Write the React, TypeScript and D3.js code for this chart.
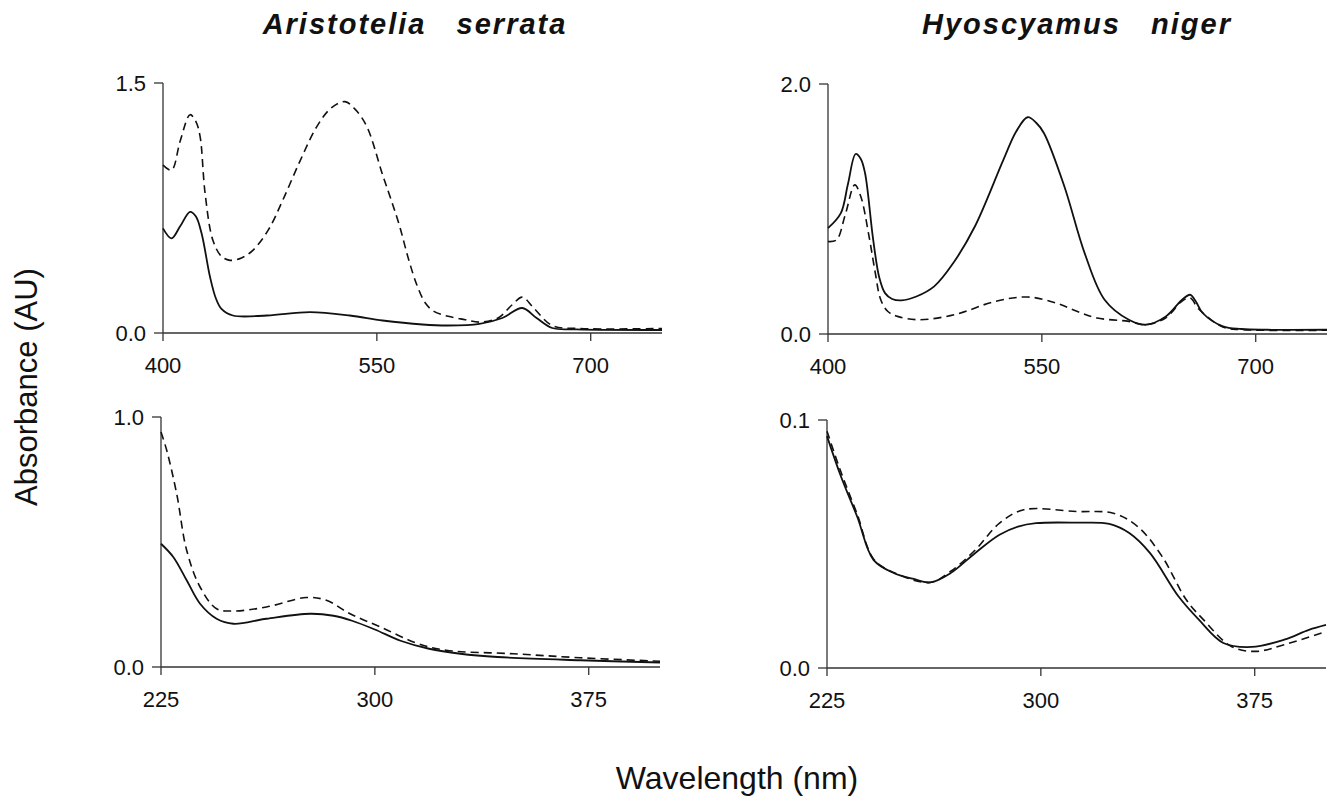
import React from "react";
import * as d3 from "d3";

// ---- Data (wavelength nm, absorbance AU) ----
const asVisSolid: [number, number][] = [
  [400, 0.628], [406, 0.568], [412, 0.64], [419, 0.727], [423, 0.7], [427, 0.6], [433, 0.336],
  [437, 0.21], [441, 0.145], [449, 0.105], [473, 0.105], [503, 0.125], [531, 0.105], [554, 0.075],
  [582, 0.051], [600, 0.045], [622, 0.055], [638, 0.09], [652, 0.15], [662, 0.09], [673, 0.03],
  [690, 0.022], [750, 0.018],
];
const asVisDashed: [number, number][] = [
  [400, 1.007], [406, 0.977], [412, 1.15], [419, 1.31], [423, 1.27], [426, 1.18], [429.5, 0.84],
  [435, 0.556], [441, 0.46], [447, 0.436], [455, 0.45], [463, 0.496], [474, 0.62], [484, 0.797],
  [496, 1.03], [508, 1.24], [518, 1.35], [527.6, 1.388], [535, 1.34], [543, 1.238], [554, 0.95],
  [560, 0.8], [566, 0.64], [572, 0.45], [578, 0.29], [584, 0.18], [590, 0.13], [600, 0.1],
  [612, 0.08], [622, 0.065], [635, 0.09], [645, 0.17], [652, 0.215], [660, 0.15], [673, 0.045],
  [692, 0.027], [750, 0.027],
];
const hnVisSolid: [number, number][] = [
  [400, 0.847], [409, 0.967], [414, 1.2], [419.4, 1.44], [423, 1.4], [426, 1.286], [431.7, 0.753],
  [436, 0.45], [440, 0.327], [445, 0.28], [451.6, 0.269], [462, 0.3], [474.5, 0.381], [488, 0.57],
  [503, 0.86], [523, 1.393], [532, 1.62], [540, 1.734], [546, 1.69], [551.5, 1.606], [565.8, 1.18],
  [580, 0.647], [594, 0.274], [611, 0.114], [622.8, 0.074], [637, 0.141], [648, 0.27], [654, 0.314],
  [658, 0.26], [662.8, 0.168], [677, 0.061], [690, 0.04], [708, 0.034], [750, 0.034],
];
const hnVisDashed: [number, number][] = [
  [400, 0.74], [406, 0.753], [412, 0.95], [418.8, 1.193], [423, 1.1], [428.8, 0.78], [433, 0.5],
  [437, 0.274], [442, 0.18], [448.8, 0.141], [463, 0.114], [488.7, 0.154], [517, 0.26], [540, 0.296],
  [560, 0.248], [575, 0.18], [588.6, 0.128], [611, 0.101], [622.8, 0.074], [637, 0.13], [648, 0.26],
  [654, 0.288], [660, 0.2], [677, 0.055], [690, 0.035], [750, 0.03],
];
const asUvSolid: [number, number][] = [
  [225, 0.493], [229.3, 0.44], [234, 0.347], [238.7, 0.253], [244.5, 0.193], [250.4, 0.173],
  [262, 0.193], [277.3, 0.213], [285.5, 0.205], [292, 0.185], [300, 0.15], [309, 0.105],
  [319, 0.073], [330, 0.053], [343, 0.04], [372, 0.027], [400, 0.018],
];
const asUvDashed: [number, number][] = [
  [225, 0.94], [227, 0.867], [230.5, 0.693], [234, 0.467], [238.7, 0.32], [244.5, 0.233],
  [250.4, 0.224], [262, 0.24], [276, 0.278], [283, 0.267], [291.3, 0.213], [302, 0.16],
  [314.7, 0.095], [325, 0.067], [348.5, 0.053], [372, 0.037], [400, 0.023],
];
const hnUvSolid: [number, number][] = [
  [225, 0.0935], [229.9, 0.0772], [235.6, 0.061], [241.3, 0.0436], [248.4, 0.0383], [255, 0.036],
  [261.2, 0.0345], [268.4, 0.0383], [276.9, 0.0463], [285.5, 0.0537], [292, 0.057], [298.3, 0.0584],
  [312.6, 0.0586], [324, 0.0581], [331, 0.0544], [338.3, 0.0463], [348.3, 0.0288], [355.4, 0.0195],
  [364, 0.0101], [374, 0.0085], [385.3, 0.0114], [394, 0.0154], [400, 0.0174],
];
const hnUvDashed: [number, number][] = [
  [225, 0.0955], [229.9, 0.079], [235.6, 0.062], [241.3, 0.044], [248.4, 0.0385], [261.2, 0.0345],
  [268.4, 0.039], [277, 0.0476], [285.5, 0.0584], [294, 0.0638], [312.6, 0.0631], [325.4, 0.0624],
  [334, 0.057], [342.5, 0.045], [351, 0.0275], [357, 0.0195], [366.8, 0.0087], [375.4, 0.0067],
  [385.3, 0.0094], [400, 0.0147],
];

const visTicks = [400, 550, 700];
const uvTicks = [225, 300, 375];
const titles = ["Aristotelia   serrata", "Hyoscyamus   niger"];

type Panel = {
  xDomain: [number, number];
  yMax: number;
  yTickLabels: [string, string];
  xTicks: number[];
  x: [number, number];
  y: [number, number];
  solid: [number, number][];
  dashed: [number, number][];
};

const panels: Panel[] = [
  { xDomain: [400, 750], yMax: 1.5, yTickLabels: ["0.0", "1.5"], xTicks: visTicks, x: [163, 662], y: [333, 83], solid: asVisSolid, dashed: asVisDashed },
  { xDomain: [400, 750], yMax: 2.0, yTickLabels: ["0.0", "2.0"], xTicks: visTicks, x: [828, 1327], y: [334, 84], solid: hnVisSolid, dashed: hnVisDashed },
  { xDomain: [225, 400], yMax: 1.0, yTickLabels: ["0.0", "1.0"], xTicks: uvTicks, x: [161, 660], y: [667, 417], solid: asUvSolid, dashed: asUvDashed },
  { xDomain: [225, 400], yMax: 0.1, yTickLabels: ["0.0", "0.1"], xTicks: uvTicks, x: [827, 1326], y: [668, 420], solid: hnUvSolid, dashed: hnUvDashed },
];

const FONT = "'Liberation Sans', Arial, Helvetica, sans-serif";

function PanelView({ p }: { p: Panel }) {
  const xs = d3.scaleLinear().domain(p.xDomain).range(p.x);
  const ys = d3.scaleLinear().domain([0, p.yMax]).range(p.y);
  const line = d3
    .line<[number, number]>()
    .x((d) => xs(d[0]))
    .y((d) => ys(d[1]))
    .curve(d3.curveCatmullRom.alpha(0.5));
  const axisColor = "#333";
  const x0 = p.x[0];
  const y0 = ys(0);
  const yTop = ys(p.yMax);
  return (
    <g>
      <line x1={x0} x2={x0} y1={yTop} y2={y0} stroke={axisColor} strokeWidth={1.3} />
      {[0, p.yMax].map((v, i) => (
        <g key={i}>
          <line x1={x0 - 9} x2={x0} y1={ys(v)} y2={ys(v)} stroke={axisColor} strokeWidth={1.3} />
          <text x={x0 - 17} y={ys(v) + 8} textAnchor="end" fontSize={22} fontFamily={FONT} fill="#111">
            {p.yTickLabels[i]}
          </text>
        </g>
      ))}
      <line x1={x0} x2={p.x[1]} y1={y0} y2={y0} stroke={axisColor} strokeWidth={1.3} />
      {p.xTicks.map((t) => (
        <g key={t}>
          <line x1={xs(t)} x2={xs(t)} y1={y0} y2={y0 + 8} stroke={axisColor} strokeWidth={1.3} />
          <text x={xs(t)} y={y0 + 40} textAnchor="middle" fontSize={22} fontFamily={FONT} fill="#111">
            {t}
          </text>
        </g>
      ))}
      <path d={line(p.dashed) || ""} fill="none" stroke="#111" strokeWidth={1.6} strokeDasharray="8,5" />
      <path d={line(p.solid) || ""} fill="none" stroke="#111" strokeWidth={1.8} />
    </g>
  );
}

export default function App() {
  return (
    <svg
      width={1328}
      height={802}
      style={{ position: "absolute", left: 0, top: 0, background: "#fff" }}
    >
      <rect x={0} y={0} width={1328} height={802} fill="#fff" />
      <text x={415} y={34} textAnchor="middle" fontSize={29} fontWeight="bold" fontStyle="italic"
        fontFamily={FONT} letterSpacing={2} style={{ whiteSpace: "pre" }} fill="#111">
        {titles[0]}
      </text>
      <text x={1077} y={34} textAnchor="middle" fontSize={29} fontWeight="bold" fontStyle="italic"
        fontFamily={FONT} letterSpacing={2} style={{ whiteSpace: "pre" }} fill="#111">
        {titles[1]}
      </text>
      {panels.map((p, i) => (
        <PanelView key={i} p={p} />
      ))}
      <text transform="translate(37,387) rotate(-90)" textAnchor="middle" fontSize={31} fontFamily={FONT} fill="#111">
        Absorbance (AU)
      </text>
      <text x={737} y={789} textAnchor="middle" fontSize={32} fontFamily={FONT} fill="#111">
        Wavelength (nm)
      </text>
    </svg>
  );
}
